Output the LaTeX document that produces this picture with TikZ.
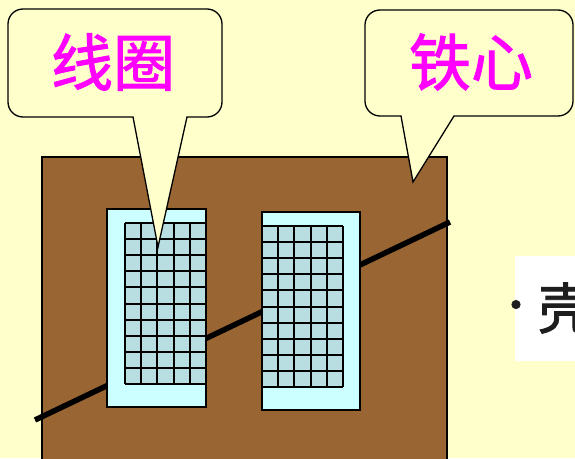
\documentclass[tikz,border=0pt]{standalone}
\usepackage{fontspec}
\newfontfamily\cjk[FakeBold=1.6]{Noto Sans CJK SC}
\usetikzlibrary{calc,positioning}
\definecolor{paper}{RGB}{255,255,204}
\definecolor{corebrown}{RGB}{153,102,51}
\definecolor{slotcyan}{RGB}{204,255,255}
\definecolor{turnblue}{RGB}{184,222,225}
\definecolor{tagpink}{RGB}{255,0,255}
\definecolor{inkgray}{RGB}{30,30,30}
\tikzset{
  bubble/.style={draw=black, line width=1.3pt, fill=paper, line join=miter},
  tag/.style={font=\cjk\fontsize{62}{62}\selectfont, text=tagpink, inner sep=0pt},
  slot/.style={draw=black, line width=1.8pt, fill=slotcyan},
  turnline/.style={draw=black, line width=2pt}
}

\begin{document}
\begin{tikzpicture}[x=1pt,y=-1pt]
\useasboundingbox (0,0) rectangle (575,458);
\clip (0,0) rectangle (575,458);
\fill[paper] (0,0) rectangle (575,458);

% clipped slide text at the right margin
\fill[white] (515,256) rectangle (580,361);
\node[font=\cjk\fontsize{55}{55}\selectfont, text=inkgray, anchor=west, inner sep=0pt] (shell) at (538,308) {壳};
\node[font=\cjk\fontsize{40}{40}\selectfont, text=inkgray, inner sep=0pt] (dot) at (516,310) {•};

% iron core and coil axis
\draw[fill=corebrown, line width=1.2pt] (42,157) rectangle (447,470);
\draw[line width=5.5pt] (35,420) -- (450,222);

% two winding windows
\foreach \wx/\wy/\wr/\gx/\gy in {107/209/206/125/223, 262/212/360/262/226}{
  \draw[slot] (\wx,\wy) rectangle (\wr,\wy+198);
  \fill[turnblue] (\gx,\gy) rectangle +(81,161);
  \foreach \i in {0,...,5}
    \draw[turnline] (\gx+\i*16.2,\gy) -- +(0,161);
  \foreach \j in {0,...,10}
    \draw[turnline] (\gx,\gy+\j*16.1) -- +(81,0);
}

% callouts
\coordinate (coilTip) at (158,247);
\coordinate (coreTip) at (413,182);
\draw[bubble] (133,117) -- (coilTip) -- (187,117) [rounded corners=15pt] -- (222,117) -- (222,9) -- (8,9) -- (8,117) [sharp corners] -- cycle;
\draw[bubble] (401,116) -- (coreTip) -- (454,116) [rounded corners=15pt] -- (573,116) -- (573,10) -- (365,10) -- (365,116) [sharp corners] -- cycle;
\node[tag] (coilTag) at (113,62) {线圈};
\node[tag] (coreTag) at (471,62) {铁心};
\end{tikzpicture}
\end{document}
